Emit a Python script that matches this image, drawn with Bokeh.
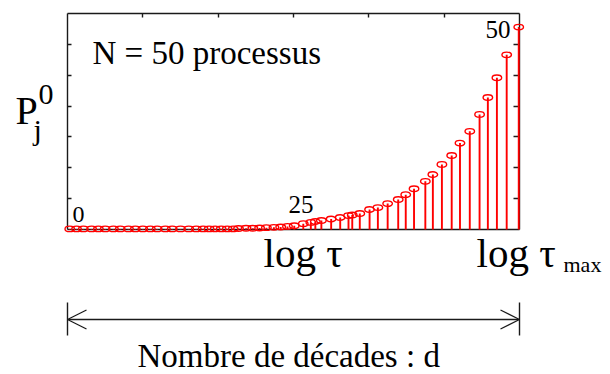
from bokeh.plotting import figure
from bokeh.models import Range1d, LinearAxis, FixedTicker, Label, Arrow, OpenHead, ColumnDataSource
from bokeh.embed import file_html
from bokeh.resources import INLINE

# ---- data ----
# position of each process on the log(tau) axis (decades from log tau_min)
log_tau = [0.03, 0.12, 0.21, 0.32, 0.41, 0.50, 0.61, 0.70, 0.81, 0.90, 1.00, 1.10,
           1.19, 1.30, 1.39, 1.50, 1.61, 1.71, 1.80, 1.88, 1.96, 2.04, 2.12, 2.20,
           2.27, 2.37, 2.46, 2.55, 2.64, 2.74, 2.83, 2.92, 3.01, 3.13, 3.23, 3.29,
           3.37, 3.50, 3.62, 3.73, 3.78, 3.88, 4.01, 4.12, 4.25, 4.39, 4.49, 4.60,
           4.75, 4.85, 4.97, 5.10, 5.21, 5.34, 5.47, 5.58, 5.70, 5.83, 5.99]
# weight P_j^0 of each process
p0 = [0.02, 0.02, 0.02, 0.02, 0.02, 0.02, 0.02, 0.02, 0.02, 0.02, 0.02, 0.02,
      0.02, 0.02, 0.02, 0.02, 0.02, 0.02, 0.02, 0.02, 0.02, 0.02, 0.02, 0.02,
      0.03, 0.04, 0.04, 0.05, 0.06, 0.07, 0.08, 0.10, 0.12, 0.19, 0.23, 0.26,
      0.29, 0.34, 0.39, 0.45, 0.47, 0.52, 0.65, 0.71, 0.84, 0.97, 1.13, 1.32,
      1.56, 1.78, 2.11, 2.40, 2.80, 3.18, 3.73, 4.28, 4.92, 5.66, 6.56]
n_decades = 6          # d: x axis spans log tau_min .. log tau_max
y_max = 7
x_ticks = [1, 2, 3, 4, 5]
y_ticks = [1, 2, 3, 4, 5, 6]
index_labels = ["0", "25", "50"]

FONT = "Liberation Serif"
RED = "#ff0000"
INK = "#1a1a1a"

# canvas geometry: the chart box sits at px 67..519 (x) and 229..13 (y)
W, H = 610, 374
box_left, box_right, box_top, box_bottom = 67, 519, 13, 229
sx = (box_right - box_left) / n_decades
sy = (box_bottom - box_top) / y_max
x_range = Range1d(-box_left / sx, (W - box_left) / sx)
y_range = Range1d(-(H - box_bottom) / sy, box_bottom / sy)

src = ColumnDataSource(dict(x=log_tau, p=p0, zero=[0] * len(p0)))

p = figure(width=W, height=H, x_range=x_range, y_range=y_range,
           output_backend="svg", toolbar_location=None, min_border=0,
           x_axis_location=None, y_axis_location=None)
p.grid.visible = False
p.outline_line_color = None
p.background_fill_color = "white"
p.border_fill_color = "white"


def mk_axis(ticks, tick_in, loc, bounds, show_ticks=True):
    ax = LinearAxis(ticker=FixedTicker(ticks=ticks), major_tick_in=tick_in, major_tick_out=0,
                    minor_tick_line_color=None, major_label_overrides={t: "" for t in ticks},
                    major_label_standoff=0, axis_line_color=INK, axis_line_width=1.4,
                    major_tick_line_color=INK if show_ticks else None,
                    major_tick_line_width=1.4, fixed_location=loc, bounds=bounds)
    ax.level = "underlay"
    return ax


p.add_layout(mk_axis(y_ticks, 4, 0, (0, y_max)), "left")
p.add_layout(mk_axis(y_ticks, 6, n_decades, (0, y_max)), "right")
p.add_layout(mk_axis(x_ticks, 4, y_max, (0, n_decades)), "above")
p.add_layout(mk_axis(x_ticks, 0, 0, (0, n_decades), show_ticks=False), "below")

p.segment(x0="x", y0="zero", x1="x", y1="p", source=src, line_color=RED, line_width=1.9)
p.ellipse(x="x", y="p", width=9.5, height=5.5, width_units="screen", height_units="screen",
          source=src, fill_color=None, line_color=RED, line_width=1.4)


def lab(px, py, text, size, align="left"):
    # py is the wanted baseline in canvas pixels; the svg text baseline lands ~0.37em low
    base = py - 0.37 * size
    p.add_layout(Label(x=(px - box_left) / sx, y=(box_bottom - base) / sy, text=text,
                       text_font=FONT, text_font_size=f"{size}px", text_align=align,
                       text_baseline="alphabetic", text_color="black"))


lab(92, 65, "N = 50 processus", 33)
lab(72, 223, index_labels[0], 24)
lab(288, 213, index_labels[1], 25)
lab(510, 38, index_labels[2], 25, align="right")
# y label P_j^0
lab(15, 125, "P", 40)
lab(33, 140, "j", 30)
lab(38, 105, "0", 30)
# log tau marks under the axis
lab(263, 268, "log τ", 41)
lab(476, 268, "log τ", 41)
lab(563, 272, "max", 22)
lab(137, 368, "Nombre de décades : d", 33)

# decades arrow
arrow_y = (box_bottom - 319) / sy
p.add_layout(Arrow(x_start=0, y_start=arrow_y, x_end=n_decades, y_end=arrow_y,
                   start=OpenHead(size=19, line_width=1.2, line_color=INK),
                   end=OpenHead(size=19, line_width=1.2, line_color=INK),
                   line_width=1.4, line_color=INK))
p.segment(x0=[0, n_decades], y0=(box_bottom - 302) / sy, x1=[0, n_decades],
          y1=(box_bottom - 335) / sy, line_color=INK, line_width=1.4)

open("out.html", "w").write(file_html(p, INLINE))
